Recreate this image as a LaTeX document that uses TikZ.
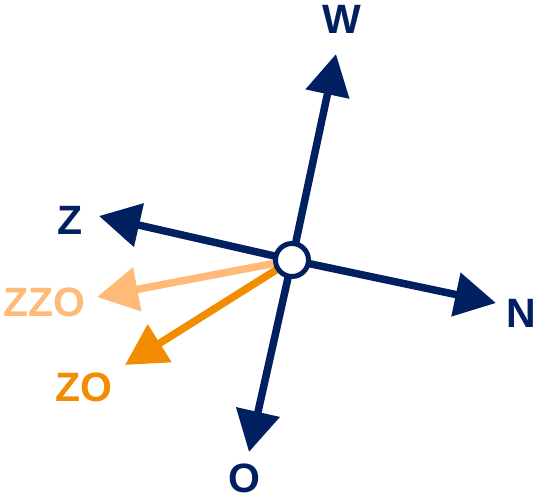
\documentclass[tikz,border=0pt]{standalone}
\usepackage{fontspec}
\setmainfont{Liberation Sans}
\definecolor{CompassNavy}{RGB}{0,32,96}
\definecolor{WindOrange}{RGB}{242,140,0}
\definecolor{WindPeach}{RGB}{255,186,120}
\usetikzlibrary{positioning,arrows.meta}

\begin{document}
\begin{tikzpicture}[x=1pt, y=-1pt,
      every node/.style={font=\fontsize{41}{44}\selectfont\bfseries, inner sep=0pt},
      arr/.style={-{Triangle[length=41pt, width=43pt]}, line width=7.5pt},
      axis/.style={arr, draw=CompassNavy},
      wind/.style={arr, draw=WindOrange},
      calm/.style={arr, draw=WindPeach},
      hub/.style={circle, draw=CompassNavy, fill=white, line width=5pt, minimum size=33pt, inner sep=0pt, outer sep=0pt},
      lbl/.style={text=CompassNavy}
  ]
    \useasboundingbox (0,0) rectangle (537,500);
    \coordinate (ctr) at (292,260);
    \coordinate (wtip) at (336,54);
    \coordinate (ntip) at (496,303);
    \coordinate (otip) at (249,452);
    \coordinate (ztip) at (99,216);
    \coordinate (zzotip) at (97,297);
    \coordinate (zotip) at (125,365);
    \draw[calm] (ctr) -- (zzotip);
    \draw[wind] (ctr) -- (zotip);
    \draw[axis] (ctr) -- (wtip);
    \draw[axis] (ctr) -- (ntip);
    \draw[axis] (ctr) -- (otip);
    \draw[axis] (ctr) -- (ztip);
    \node[hub] (c) at (ctr) {};
    \node[lbl] (w) at (342,19) {W};
    \node[lbl] (n) at (521,313) {N};
    \node[lbl] (o) at (244,478) {O};
    \node[lbl] (z) at (70,220) {Z};
    \node[text=WindPeach] (zzo) at (44,302) {ZZO};
    \node[text=WindOrange] (zo) at (84,387) {ZO};
  \end{tikzpicture}
\end{document}
